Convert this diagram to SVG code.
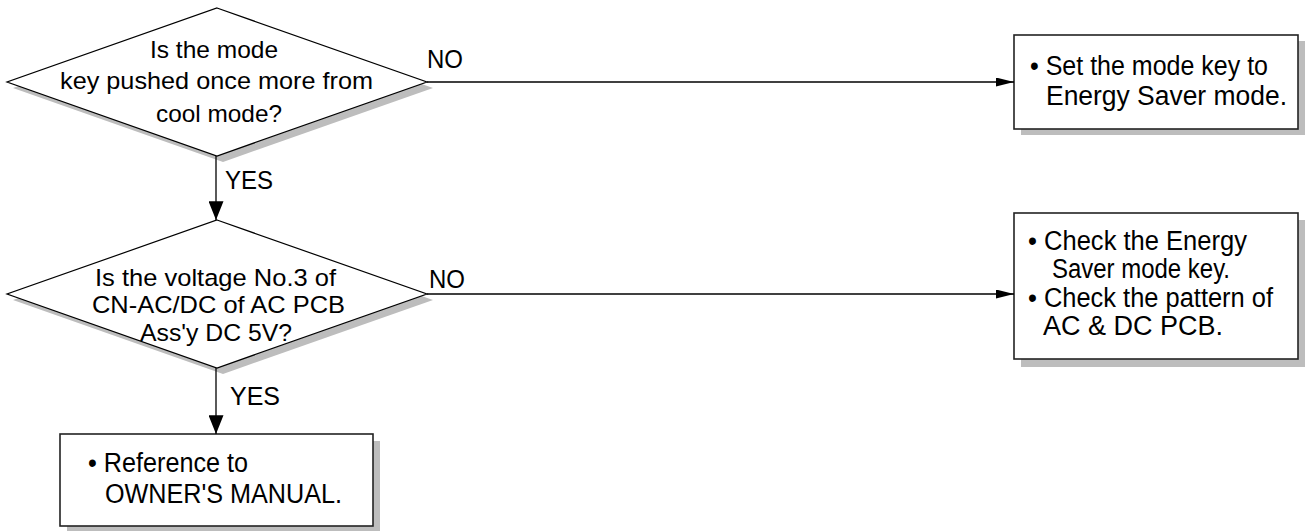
<svg xmlns="http://www.w3.org/2000/svg" width="1309" height="531" viewBox="0 0 1309 531">
<style>
  text { font-family: "Liberation Sans", Arial, Helvetica, sans-serif; fill: #000; }
  .dt { font-size: 24.5px; }
  .bt { font-size: 27px; }
  .lbl { font-size: 26px; }
  .shadow { fill: #bdbdbd; stroke: none; }
  .dia { fill: #fff; stroke: #000; stroke-width: 1.2; }
  .box { fill: #fff; stroke: #222; stroke-width: 1.6; }
  .conn { stroke: #000; stroke-width: 1.3; fill: none; }
</style>
<defs>
  <marker id="ah" viewBox="0 0 20 10" refX="20" refY="5" markerUnits="userSpaceOnUse" markerWidth="22" markerHeight="9" orient="auto">
    <path d="M0,0 L20,5 L0,10 Z" fill="#000"/>
  </marker>
  <marker id="av" viewBox="0 0 20 16" refX="20" refY="8" markerUnits="userSpaceOnUse" markerWidth="19" markerHeight="15" orient="auto">
    <path d="M0,0 L20,8 L0,16 Z" fill="#000"/>
  </marker>
</defs>
<rect width="1309" height="531" fill="#fff"/>

<g id="d1">
  <polygon class="shadow" points="223,14 433,88 223,162 13,88"/>
  <polygon class="dia" points="217,8 427,82 217,156 7,82"/>
  <text class="dt" x="150" y="58" textLength="128" lengthAdjust="spacingAndGlyphs">Is the mode</text>
  <text class="dt" x="60" y="89" textLength="313" lengthAdjust="spacingAndGlyphs">key pushed once more from</text>
  <text class="dt" x="156" y="122" textLength="126" lengthAdjust="spacingAndGlyphs">cool mode?</text>
</g>

<g id="d2">
  <polygon class="shadow" points="223,226 433,300 223,374 13,300"/>
  <polygon class="dia" points="217,220 427,294 217,368 7,294"/>
  <text class="dt" x="95" y="286" textLength="241" lengthAdjust="spacingAndGlyphs">Is the voltage No.3 of</text>
  <text class="dt" x="92" y="313" textLength="253" lengthAdjust="spacingAndGlyphs">CN-AC/DC of AC PCB</text>
  <text class="dt" x="140" y="341" textLength="152" lengthAdjust="spacingAndGlyphs">Ass'y DC 5V?</text>
</g>

<g id="b1">
  <rect class="shadow" x="1021" y="41" width="284" height="94"/>
  <rect class="box" x="1014" y="35" width="284" height="94"/>
  <text class="bt" x="1030" y="75" textLength="238" lengthAdjust="spacingAndGlyphs">• Set the mode key to</text>
  <text class="bt" x="1046" y="105" textLength="241" lengthAdjust="spacingAndGlyphs">Energy Saver mode.</text>
</g>

<g id="b2">
  <rect class="shadow" x="1021" y="220" width="284" height="147"/>
  <rect class="box" x="1014" y="213" width="284" height="146"/>
  <text class="bt" x="1028" y="250" textLength="219" lengthAdjust="spacingAndGlyphs">• Check the Energy</text>
  <text class="bt" x="1052" y="278" textLength="178" lengthAdjust="spacingAndGlyphs">Saver mode key.</text>
  <text class="bt" x="1028" y="307" textLength="245" lengthAdjust="spacingAndGlyphs">• Check the pattern of</text>
  <text class="bt" x="1043" y="335" textLength="180" lengthAdjust="spacingAndGlyphs">AC &amp; DC PCB.</text>
</g>

<g id="b3">
  <rect class="shadow" x="67" y="441" width="313" height="92"/>
  <rect class="box" x="60" y="434" width="313" height="92"/>
  <text class="bt" x="88" y="472" textLength="160" lengthAdjust="spacingAndGlyphs">• Reference to</text>
  <text class="bt" x="105" y="503" textLength="237" lengthAdjust="spacingAndGlyphs">OWNER'S MANUAL.</text>
</g>

<g id="connectors">
  <line class="conn" x1="427" y1="82" x2="1014" y2="82" marker-end="url(#ah)"/>
  <line class="conn" x1="427" y1="294" x2="1014" y2="294" marker-end="url(#ah)"/>
  <line class="conn" x1="216" y1="156" x2="216" y2="220" marker-end="url(#av)"/>
  <line class="conn" x1="216" y1="368" x2="216" y2="434" marker-end="url(#av)"/>
  <text class="lbl" x="427" y="68" textLength="36" lengthAdjust="spacingAndGlyphs">NO</text>
  <text class="lbl" x="429" y="288" textLength="36" lengthAdjust="spacingAndGlyphs">NO</text>
  <text class="lbl" x="225" y="189" textLength="48" lengthAdjust="spacingAndGlyphs">YES</text>
  <text class="lbl" x="230" y="405" textLength="50" lengthAdjust="spacingAndGlyphs">YES</text>
</g>
</svg>
